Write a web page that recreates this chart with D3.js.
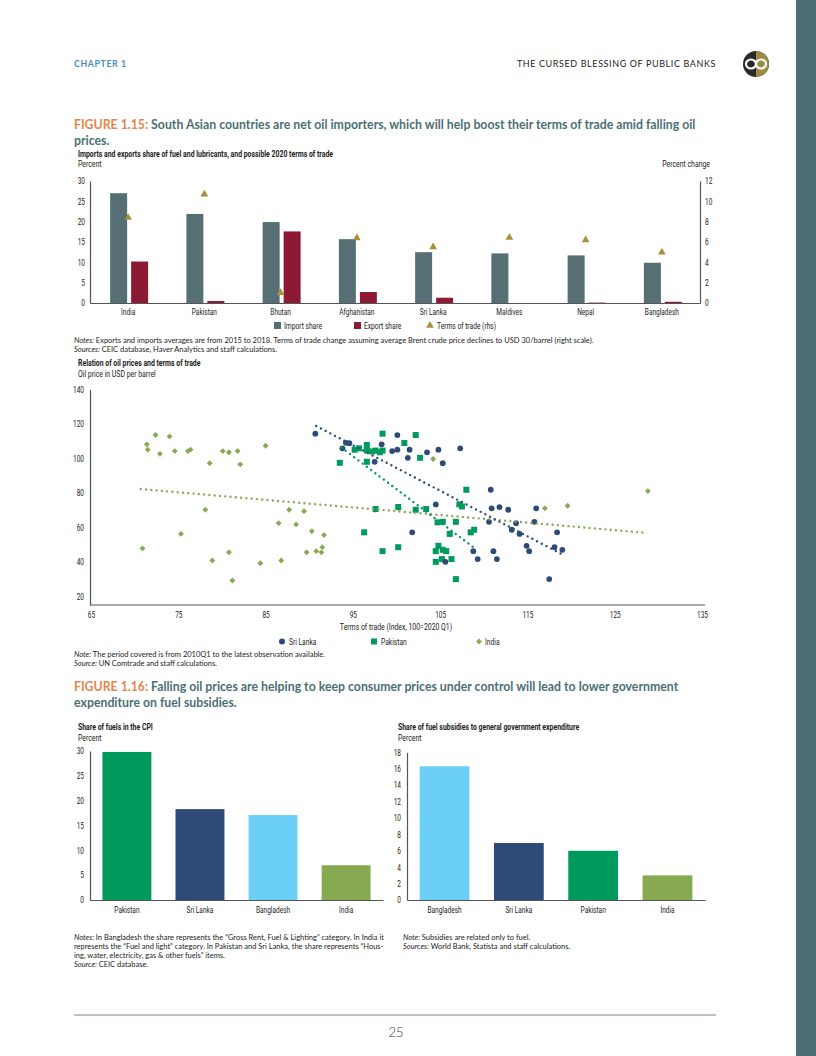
<!DOCTYPE html>
<html>
<head>
<meta charset="utf-8">
<script src="https://cdn.jsdelivr.net/npm/d3@7"></script>
<style>
  body { margin: 0; background: #fff; }
  svg { display: block; }
  .cond, .cond text { font-family: Roboto, "Liberation Sans", sans-serif; fill: #222; }
  .note { font-family: Lato, "Open Sans", sans-serif; font-size: 7.5px; fill: #222; }
  .axis path, .axis line { stroke: #555; stroke-width: 1.2; }
  .axis text { font-family: Roboto, "Liberation Sans", sans-serif; font-size: 8.8px; fill: #222; }
</style>
</head>
<body>
<svg id="page" width="816" height="1056"></svg>
<script>
// ---- data ----
const countries1 = ['India', 'Pakistan', 'Bhutan', 'Afghanistan', 'Sri Lanka', 'Maldives', 'Nepal', 'Bangladesh']
const importShare = [27.0, 21.9, 19.9, 15.7, 12.5, 12.2, 11.7, 9.9]
const exportShare = [10.2, 0.5, 17.6, 2.7, 1.3, 0, 0.1, 0.3]
const totChange = [8.4, 10.7, 1.0, 6.4, 5.5, 6.45, 6.2, 5.0]
const leftTicks1 = [0, 5, 10, 15, 20, 25, 30]
const rightTicks1 = [0, 2, 4, 6, 8, 10, 12]

// scatter: [terms of trade, oil price]
const sriLanka = [[90.7,114.3],[93.8,105.8],[94.2,109.0],[94.6,108.8],[98.3,108.1],[97.5,98.0],[100.1,113.5],[99.5,104.2],
  [100.1,105.0],[101.5,105.0],[103.5,103.5],[104.8,105.0],[107.3,105.8],[101.3,100.3],[105.3,97.2],[104.5,73.3],[101.8,57.1],
  [105.6,40.0],[108.8,46.2],[109.3,41.6],[110.8,81.8],[110.9,71.0],[111.8,71.7],[112.8,70.2],[116.0,71.0],[110.6,63.2],
  [113.7,62.4],[113.2,58.6],[114.1,56.2],[115.8,63.2],[118.4,57.1],[114.9,49.3],[115.2,46.2],[118.1,48.5],[119.0,47.0],
  [111.1,46.2],[111.5,41.6],[117.5,30.0]]
const pakistan = [[93.5,97.4],[95.2,105.0],[95.7,105.8],[96.6,107.7],[96.6,104.5],[97.2,104.0],[97.6,104.5],[98.1,103.5],
  [98.4,104.5],[98.4,114.3],[100.9,108.9],[102.2,113.5],[102.7,100.3],[96.6,98.0],[108.0,81.8],[107.2,73.3],[107.5,72.1],
  [97.6,70.6],[100.2,71.8],[102.2,70.2],[103.4,70.6],[104.7,62.9],[105.3,63.2],[106.8,63.2],[96.3,57.1],[106.1,56.2],
  [108.5,57.1],[108.9,58.6],[98.4,46.2],[100.2,48.5],[104.8,49.3],[104.5,46.2],[105.3,47.0],[105.7,46.2],[106.3,41.6],
  [105.2,41.6],[104.5,40.0],[106.8,30.0]]
const india = [[72.4,113.5],[74.0,112.7],[71.4,108.1],[71.5,105.0],[72.9,102.6],[74.6,104.2],[76.1,104.2],[76.4,105.0],
  [80.1,104.2],[80.8,103.5],[81.8,104.2],[85.0,107.3],[78.6,97.2],[82.1,96.5],[78.1,70.2],[87.7,70.2],[89.4,69.4],
  [86.5,62.4],[88.5,61.7],[90.3,57.8],[91.7,55.5],[75.3,56.2],[70.9,47.8],[78.9,40.8],[80.8,45.5],[84.4,39.2],[86.8,40.8],
  [81.2,29.2],[89.7,45.5],[90.8,46.2],[91.4,45.5],[91.5,48.5],[104.2,99.6],[97.6,70.2],[100.2,71.0],[117.0,71.0],
  [119.6,72.5],[128.8,81.0]]
const trendSriLanka = [[90.8,118.7],[119.0,44.3]]
const trendPakistan = [[93.7,106.2],[108.8,48.5]]
const trendIndia = [[70.7,82.2],[128.6,56.8]]
const xTicks2 = [65, 75, 85, 95, 105, 115, 125, 135]
const yTicks2 = [20, 40, 60, 80, 100, 120, 140]

const cpiCountries = ['Pakistan', 'Sri Lanka', 'Bangladesh', 'India']
const cpiShare = [29.8, 18.3, 17.1, 7.0]
const subCountries = ['Bangladesh', 'Sri Lanka', 'Pakistan', 'India']
const subShare = [16.3, 6.95, 6.0, 3.0]

const countryColor = {'Pakistan': '#009a5e', 'Sri Lanka': '#2e4a76', 'Bangladesh': '#6ccff6', 'India': '#87a952'}
const teal = '#4b7074'

const svg = d3.select('#page')

// ---- page furniture ----
svg.append('rect').attr('x', 796).attr('y', 0).attr('width', 20).attr('height', 1056).attr('fill', teal)

svg.append('text').attr('x', 74).attr('y', 67)
    .attr('font-family', 'Lato, sans-serif').attr('font-weight', 700).attr('font-size', 8.8)
    .attr('letter-spacing', 0.6).attr('fill', '#4a8dc0').text('CHAPTER 1')
svg.append('text').attr('x', 716).attr('y', 67).attr('text-anchor', 'end')
    .attr('font-family', 'Lato, sans-serif').attr('font-size', 9)
    .attr('letter-spacing', 0.6).attr('fill', '#222').text('THE CURSED BLESSING OF PUBLIC BANKS')

const logo = svg.append('g').attr('transform', 'translate(756,64)')
logo.append('circle').attr('r', 13).attr('fill', '#2a2a26')
logo.append('path').attr('d', 'M0,-13 A13,13 0 0 1 0,13 Z').attr('fill', '#9c8a45')
logo.append('ellipse').attr('cx', -5).attr('cy', 0).attr('rx', 5).attr('ry', 4.5).attr('fill', 'none').attr('stroke', '#fff').attr('stroke-width', 2.2)
logo.append('ellipse').attr('cx', 5).attr('cy', 0).attr('rx', 5).attr('ry', 4.5).attr('fill', 'none').attr('stroke', '#fff').attr('stroke-width', 2.2)

svg.append('line').attr('x1', 74).attr('x2', 716).attr('y1', 1015).attr('y2', 1015).attr('stroke', '#8a7f80').attr('stroke-width', 1)
svg.append('text').attr('x', 396).attr('y', 1037).attr('text-anchor', 'middle')
    .attr('font-family', 'Lato, sans-serif').attr('font-weight', 300).attr('font-size', 13).attr('fill', '#333').text('25')

function figTitle(y, label, lines) {
    const t = svg.append('text').attr('x', 74).attr('y', y)
        .attr('font-family', 'Lato, "Open Sans", sans-serif').attr('font-weight', 700).attr('font-size', 12.3)
    t.append('tspan').attr('fill', '#e8844c').text(label + ' ')
    t.append('tspan').attr('fill', teal).text(lines[0])
    svg.append('text').attr('x', 74).attr('y', y + 16)
        .attr('font-family', 'Lato, "Open Sans", sans-serif').attr('font-weight', 700).attr('font-size', 12.3)
        .attr('fill', teal).text(lines[1])
}

function subTitle(x, y, txt) {
    return svg.append('text').attr('class', 'cond').attr('x', x).attr('y', y)
        .attr('font-weight', 700).attr('font-size', 9.3).text(txt)
}

function plainCond(x, y, txt, anchor) {
    return svg.append('text').attr('class', 'cond').attr('x', x).attr('y', y)
        .attr('font-size', 9.3).attr('text-anchor', anchor || 'start').text(txt)
}

function noteLines(x, y, lines) {
    lines.forEach((l, i) => {
        const t = svg.append('text').attr('class', 'note').attr('x', x).attr('y', y + i * 9.2)
        if (l[0]) t.append('tspan').attr('font-style', 'italic').text(l[0] + ' ')
        t.append('tspan').text(l[1])
    })
}

// ---- FIGURE 1.15 ----
figTitle(129, 'FIGURE 1.15:', ['South Asian countries are net oil importers, which will help boost their terms of trade amid falling oil', 'prices.'])

const refSub = subTitle(78, 157, 'Imports and exports share of fuel and lubricants, and possible 2020 terms of trade')
plainCond(78, 167, 'Percent')
plainCond(710, 167, 'Percent change', 'end')

const x1 = d3.scaleBand().domain(countries1).range([90, 700])
const yL1 = d3.scaleLinear().domain([0, 30]).range([303, 181])
const yR1 = d3.scaleLinear().domain([0, 12]).range([303, 181])

const g1 = svg.append('g')
g1.selectAll('.imp').data(countries1).enter().append('rect')
    .attr('x', d => x1(d) + x1.bandwidth() / 2 - 18)
    .attr('y', (d, i) => yL1(importShare[i]))
    .attr('width', 17)
    .attr('height', (d, i) => yL1(0) - yL1(importShare[i]))
    .attr('fill', '#566f75')
g1.selectAll('.exp').data(countries1).enter().append('rect')
    .attr('x', d => x1(d) + x1.bandwidth() / 2 + 3)
    .attr('y', (d, i) => yL1(exportShare[i]))
    .attr('width', 17)
    .attr('height', (d, i) => yL1(0) - yL1(exportShare[i]))
    .attr('fill', '#8c1a35')

g1.append('g').attr('class', 'axis').attr('transform', 'translate(90,0)')
    .call(d3.axisLeft(yL1).tickValues(leftTicks1).tickSize(0).tickPadding(5))
g1.append('g').attr('class', 'axis').attr('transform', 'translate(700,0)')
    .call(d3.axisRight(yR1).tickValues(rightTicks1).tickSize(0).tickPadding(5))
g1.append('g').attr('class', 'axis').attr('transform', 'translate(0,303)')
    .call(d3.axisBottom(x1).tickSize(0).tickPadding(6))

const tri = d3.symbol(d3.symbolTriangle).size(26)
g1.selectAll('.tot').data(countries1).enter().append('path')
    .attr('d', tri)
    .attr('transform', (d, i) => `translate(${x1(d) + x1.bandwidth() / 2}, ${yR1(totChange[i])})`)
    .attr('fill', '#a8903a')

const leg1 = svg.append('g').attr('class', 'cond').attr('font-size', 9)
leg1.append('rect').attr('x', 274).attr('y', 322).attr('width', 7).attr('height', 7).attr('fill', '#566f75')
leg1.append('text').attr('x', 284).attr('y', 328.8).text('Import share')
leg1.append('rect').attr('x', 354).attr('y', 322).attr('width', 7).attr('height', 7).attr('fill', '#8c1a35')
leg1.append('path').attr('d', tri).attr('transform', 'translate(430,325.5)').attr('fill', '#a8903a')
leg1.append('text').attr('x', 364).attr('y', 328.8).text('Export share')
leg1.append('text').attr('x', 437).attr('y', 328.8).text('Terms of trade (rhs)')

noteLines(74, 342.5, [
    ['Notes:', 'Exports and imports averages are from 2015 to 2018. Terms of trade change assuming average Brent crude price declines to USD 30/barrel (right scale).'],
    ['Sources:', 'CEIC database, Haver Analytics and staff calculations.']
])

// ---- scatter ----
subTitle(78, 366, 'Relation of oil prices and terms of trade')
plainCond(78, 377, 'Oil price in USD per barrel')

const x2 = d3.scaleLinear().domain([65, 135]).range([91, 702])
const y2 = d3.scaleLinear().domain([15, 140]).range([605, 389.3])

const g2 = svg.append('g')
g2.append('g').attr('class', 'axis').attr('transform', 'translate(90,0)')
    .call(d3.axisLeft(y2).tickValues(yTicks2).tickSize(0).tickPadding(6))
g2.append('g').attr('class', 'axis').attr('transform', 'translate(0,605)')
    .call(d3.axisBottom(x2).tickValues(xTicks2).tickSize(0).tickPadding(7))
    .select('.domain').attr('d', 'M90,0H705')

const dotted = d3.line().x(d => x2(d[0])).y(d => y2(d[1]))
function trend(pts, color) {
    g2.append('path').attr('d', dotted(pts)).attr('fill', 'none')
        .attr('stroke', color).attr('stroke-width', 2.4)
        .attr('stroke-linecap', 'round').attr('stroke-dasharray', '0 5.3')
}

const diamond = d3.symbol(d3.symbolSquare).size(17)
g2.selectAll('.ind').data(india).enter().append('path')
    .attr('d', diamond)
    .attr('transform', d => `translate(${x2(d[0])},${y2(d[1])}) rotate(45)`)
    .attr('fill', '#87a952')
g2.selectAll('.pak').data(pakistan).enter().append('rect')
    .attr('x', d => x2(d[0]) - 3).attr('y', d => y2(d[1]) - 3)
    .attr('width', 6).attr('height', 6)
    .attr('fill', '#009a5e')
g2.selectAll('.srl').data(sriLanka).enter().append('circle')
    .attr('cx', d => x2(d[0])).attr('cy', d => y2(d[1])).attr('r', 2.9)
    .attr('fill', '#2e4a76')

trend(trendIndia, '#87a952')
trend(trendSriLanka, '#2e4a76')
trend(trendPakistan, '#009a5e')

plainCond(396, 630, 'Terms of trade (Index, 100=2020 Q1)', 'middle')

const leg2 = svg.append('g').attr('class', 'cond').attr('font-size', 9)
leg2.append('circle').attr('cx', 282).attr('cy', 641.5).attr('r', 3).attr('fill', '#2e4a76')
leg2.append('text').attr('x', 289).attr('y', 644.8).text('Sri Lanka')
leg2.append('rect').attr('x', 371).attr('y', 638.5).attr('width', 6).attr('height', 6).attr('fill', '#009a5e')
leg2.append('text').attr('x', 381).attr('y', 644.8).text('Pakistan')
leg2.append('path').attr('d', diamond).attr('transform', 'translate(479,641.5) rotate(45)').attr('fill', '#87a952')
leg2.append('text').attr('x', 485).attr('y', 644.8).text('India')

noteLines(74, 657, [
    ['Note:', 'The period covered is from 2010Q1 to the latest observation available.'],
    ['Source:', 'UN Comtrade and staff calculations.']
])

// ---- FIGURE 1.16 ----
figTitle(691, 'FIGURE 1.16:', ['Falling oil prices are helping to keep consumer prices under control will lead to lower government', 'expenditure on fuel subsidies.'])

function barChart(cfg) {
    const x = d3.scaleBand().domain(cfg.cats).range([cfg.x0, cfg.x1]).paddingInner(0.33).paddingOuter(0.17)
    const y = d3.scaleLinear().domain([0, cfg.max]).range([900, cfg.top])
    subTitle(cfg.tx, 729.5, cfg.title)
    plainCond(cfg.tx, 740.5, 'Percent')
    const g = svg.append('g')
    g.selectAll('rect').data(cfg.cats).enter().append('rect')
        .attr('x', d => x(d)).attr('width', x.bandwidth())
        .attr('y', (d, i) => y(cfg.vals[i]))
        .attr('height', (d, i) => y(0) - y(cfg.vals[i]))
        .attr('fill', d => countryColor[d])
    g.append('g').attr('class', 'axis').attr('transform', `translate(${cfg.x0},0)`)
        .call(d3.axisLeft(y).tickValues(cfg.ticks).tickSize(0).tickPadding(6))
    g.append('g').attr('class', 'axis').attr('transform', 'translate(0,900)')
        .call(d3.axisBottom(x).tickSize(0).tickPadding(7))
}

barChart({cats: cpiCountries, vals: cpiShare, max: 30, top: 751, x0: 90, x1: 383, tx: 78,
    ticks: [0, 5, 10, 15, 20, 25, 30], title: 'Share of fuels in the CPI'})
barChart({cats: subCountries, vals: subShare, max: 18, top: 752.3, x0: 407, x1: 705, tx: 398,
    ticks: [0, 2, 4, 6, 8, 10, 12, 14, 16, 18], title: 'Share of fuel subsidies to general government expenditure'})

noteLines(74, 939.5, [
    ['Notes:', 'In Bangladesh the share represents the \u201cGross Rent, Fuel & Lighting\u201d category. In India it'],
    ['', 'represents the \u201cFuel and light\u201d category. In Pakistan and Sri Lanka, the share represents \u201cHous-'],
    ['', 'ing, water, electricity, gas & other fuels\u201d items.'],
    ['Source:', 'CEIC database.']
])
noteLines(403, 940, [
    ['Note:', 'Subsidies are related only to fuel.'],
    ['Sources:', 'World Bank, Statista and staff calculations.']
])

// the report uses a condensed face; squeeze the sans glyphs to the same width
const squeeze = 255 / refSub.node().getComputedTextLength()
svg.selectAll('text.cond, .cond text, .axis text').each(function () {
    const w = this.getComputedTextLength()
    d3.select(this).attr('textLength', w * squeeze).attr('lengthAdjust', 'spacingAndGlyphs')
})
</script>
</body>
</html>
